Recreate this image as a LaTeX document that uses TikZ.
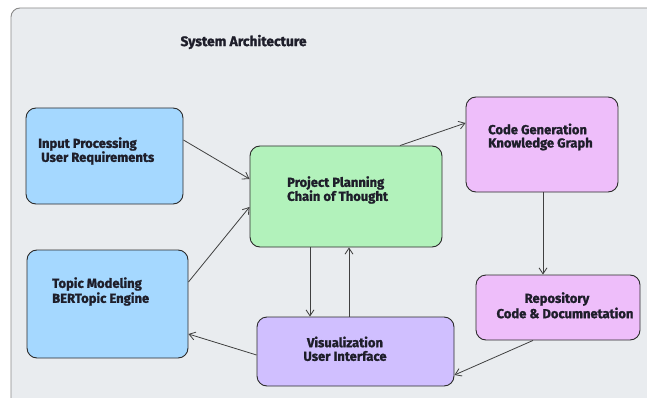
\documentclass[tikz,border=0pt]{standalone}
\usepackage{fontspec}
\setmainfont{Fira Sans}
\newfontfamily\heavy{Fira Sans}[UprightFont=*-Bold, UprightFeatures={FakeBold=1.4}]
\usetikzlibrary{arrows.meta,calc}
\definecolor{panelbg}{HTML}{E9ECEF}
\definecolor{panelline}{HTML}{8A8A8A}
\definecolor{edge}{HTML}{2B2B2B}
\definecolor{blueF}{HTML}{A5D8FF}
\definecolor{greenF}{HTML}{B2F2BB}
\definecolor{pinkF}{HTML}{EEBEFA}
\definecolor{violetF}{HTML}{D0BFFF}
\definecolor{ink}{HTML}{1E1E2A}
\tikzset{
  box/.style={draw=edge, line width=0.9pt, rounded corners=10pt, inner sep=0pt},
  lbl/.style={font=\heavy\fontsize{13}{14}\selectfont, text=ink, inner sep=0pt},
  link/.style={draw=edge!90, line width=0.8pt, -{Straight Barb[length=6pt,width=8pt]}},
}
\begin{document}
\begin{tikzpicture}[x=1pt,y=-1pt]
\useasboundingbox (0,0) rectangle (647,398);
\begin{scope}
\clip (0,0) rectangle (647,398);
\fill[white] (0,0) rectangle (647,398);
\draw[panelline, fill=panelbg, line width=0.9pt, rounded corners=9pt] (11,8) rectangle (670,420);
\end{scope}

\node[font=\heavy\fontsize{13.8}{16}\selectfont, text=ink, anchor=west] (title) at (177,42) {System Architecture};

% boxes
\node[box, fill=blueF, minimum width=157pt, minimum height=96pt] (inp) at (104.5,156) {};
\node[box, fill=blueF, minimum width=161pt, minimum height=108pt] (topic) at (107.5,304) {};
\node[box, fill=greenF, minimum width=192pt, minimum height=101pt] (plan) at (346,196.5) {};
\node[box, fill=pinkF, minimum width=152pt, minimum height=95pt] (code) at (542,144.5) {};
\node[box, fill=pinkF, minimum width=164pt, minimum height=65pt] (repo) at (558,307.5) {};
\node[box, fill=violetF, minimum width=197pt, minimum height=69pt] (vis) at (355.5,351.5) {};

% labels
\node[lbl, anchor=west] (inpA) at (38,144) {Input Processing};
\node[lbl, anchor=west] (inpB) at (41,158) {User Requirements};
\node[lbl, anchor=west] (topA) at (52,284) {Topic Modeling};
\node[lbl, anchor=west] (topB) at (52,299) {BERTopic Engine};
\node[lbl, anchor=west] (plnA) at (287,183) {Project Planning};
\node[lbl, anchor=west] (plnB) at (287,197) {Chain of Thought};
\node[lbl, anchor=west] (codA) at (488,129) {Code Generation};
\node[lbl, anchor=west] (codB) at (488,144) {Knowledge Graph};
\node[lbl] (repA) at (557,299) {Repository};
\node[lbl] (repB) at (565,313) {Code \& Documnetation};
\node[lbl] (visA) at (345,342) {Visualization};
\node[lbl] (visB) at (345,356) {User Interface};

% connectors
\draw[link] ([yshift=16pt]inp.east) -- ([yshift=17.5pt]plan.west);
\draw[link] ([yshift=22pt]topic.east) -- ([yshift=-10.5pt]plan.west);
\draw[link] ([xshift=54pt]plan.north) -- ([yshift=21.5pt]code.west);
\draw[link] ([xshift=1pt]code.south) -- ([xshift=1pt]code.south |- repo.north);
\draw[link] ([xshift=-36pt]plan.south) -- ([xshift=-36pt]plan.south |- vis.north);
\draw[link] ([xshift=3pt]plan.south |- vis.north) -- ([xshift=3pt]plan.south);
\draw[link] ([yshift=-3.5pt]vis.west) -- ([yshift=-30pt]topic.east);
\draw[link] ([xshift=-25pt]repo.south) -- ([yshift=-23.5pt]vis.east);
\end{tikzpicture}
\end{document}
